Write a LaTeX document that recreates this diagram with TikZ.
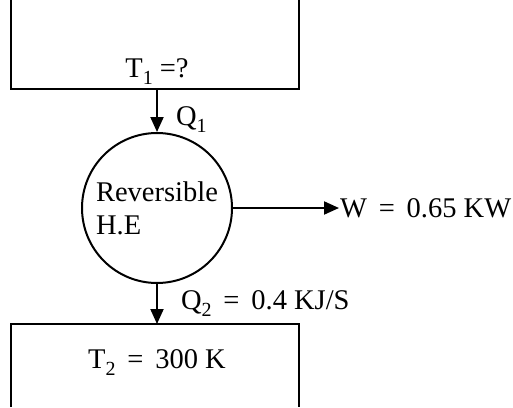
\documentclass[tikz,border=0pt]{standalone}
\usepackage{fontspec}
\setmainfont{Liberation Serif}
\usetikzlibrary{positioning, arrows.meta}
\newcommand{\lowidx}[1]{\raisebox{-0.28em}{\fontsize{20}{20}\selectfont #1}}

\begin{document}
\begin{tikzpicture}[
      x=1pt, y=-1pt,
      >={Triangle[length=15pt,width=13pt]},
      line width=2pt,
      lab/.style={font=\fontsize{28.5}{33}\selectfont, inner sep=0pt},
      engine/.style={circle, draw, minimum size=150pt, inner sep=0pt, align=left}
    ]
    \useasboundingbox (0,0) rectangle (513,407);

    % reservoirs (open at the page edge)
    \draw (11,0) -- (11,89) -- (299,89) -- (299,0);
    \draw (11,407) -- (11,324) -- (299,324) -- (299,407);
    \coordinate (q1) at (157,89);
    \coordinate (q2) at (157,324);

    % engine
    \node[engine, lab] (he) at (157,208) {Reversible\\H.E};

    % labels
    \node[lab, anchor=base] (t1) at (157,77) {T\lowidx{1}\ =?};
    \node[lab, anchor=base west] (lq1) at (175,125) {Q\lowidx{1}};
    \node[lab, anchor=base west] (lq2) at (180,309) {Q\lowidx{2}\ \,=\ \,0.4 KJ/S};
    \node[lab, anchor=base] (t2) at (157,368) {T\lowidx{2}\ \,=\ \,300 K};
    \node[lab, anchor=west] (w) at (339,208) {W\ \,=\ \,0.65 KW};

    % heat and work arrows
    \draw[->] (q1) -- (he);
    \draw[->] (he) -- (q2);
    \draw[->] (he.east) -- (w.west);

\end{tikzpicture}
\end{document}
